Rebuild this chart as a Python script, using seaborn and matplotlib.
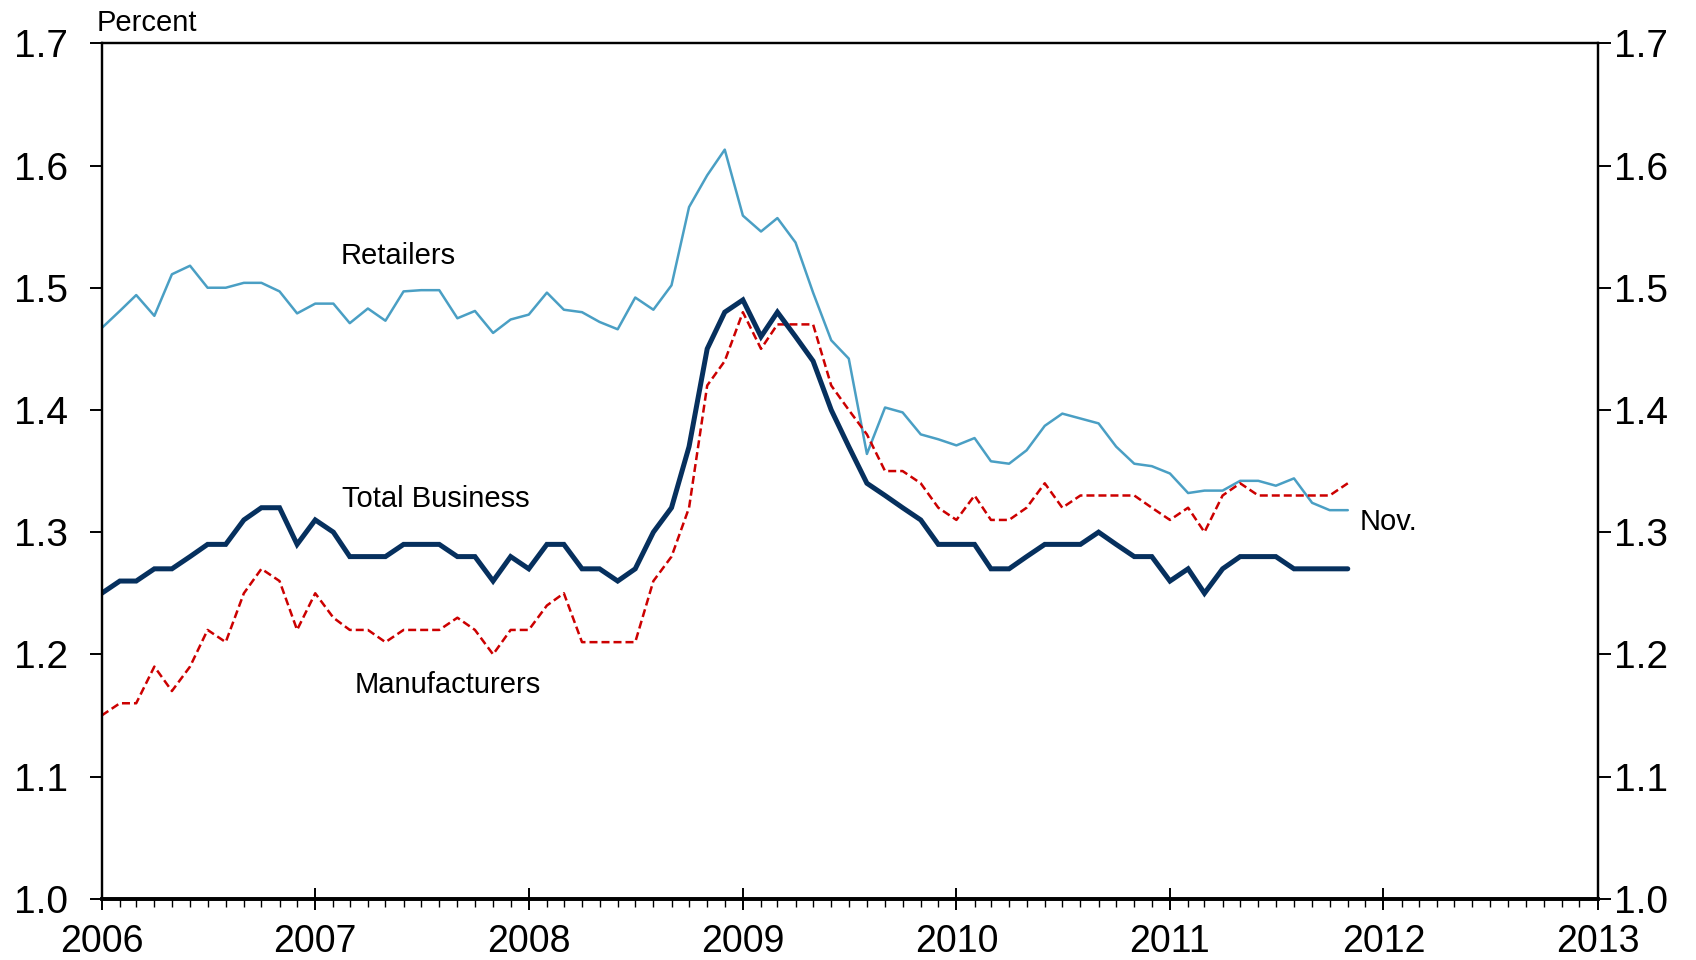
import numpy as np
import pandas as pd
import seaborn as sns
import matplotlib.pyplot as plt
import matplotlib.dates as mdates
from matplotlib.ticker import MultipleLocator, FormatStrFormatter

# monthly data, Jan 2006 - Nov 2011 (percent)
months = pd.date_range("2006-01-01", periods=71, freq="MS")

total_business = [1.25, 1.26, 1.26, 1.27, 1.27, 1.28, 1.29, 1.29, 1.31, 1.32, 1.32, 1.29,
                  1.31, 1.30, 1.28, 1.28, 1.28, 1.29, 1.29, 1.29, 1.28, 1.28, 1.26, 1.28,
                  1.27, 1.29, 1.29, 1.27, 1.27, 1.26, 1.27, 1.30, 1.32, 1.37, 1.45, 1.48,
                  1.49, 1.46, 1.48, 1.46, 1.44, 1.40, 1.37, 1.34, 1.33, 1.32, 1.31, 1.29,
                  1.29, 1.29, 1.27, 1.27, 1.28, 1.29, 1.29, 1.29, 1.30, 1.29, 1.28, 1.28,
                  1.26, 1.27, 1.25, 1.27, 1.28, 1.28, 1.28, 1.27, 1.27, 1.27, 1.27]

manufacturers = [1.15, 1.16, 1.16, 1.19, 1.17, 1.19, 1.22, 1.21, 1.25, 1.27, 1.26, 1.22,
                 1.25, 1.23, 1.22, 1.22, 1.21, 1.22, 1.22, 1.22, 1.23, 1.22, 1.20, 1.22,
                 1.22, 1.24, 1.25, 1.21, 1.21, 1.21, 1.21, 1.26, 1.28, 1.32, 1.42, 1.44,
                 1.48, 1.45, 1.47, 1.47, 1.47, 1.42, 1.40, 1.38, 1.35, 1.35, 1.34, 1.32,
                 1.31, 1.33, 1.31, 1.31, 1.32, 1.34, 1.32, 1.33, 1.33, 1.33, 1.33, 1.32,
                 1.31, 1.32, 1.30, 1.33, 1.34, 1.33, 1.33, 1.33, 1.33, 1.33, 1.34]

retailers = [1.467, 1.481, 1.494, 1.477, 1.511, 1.518, 1.500, 1.500, 1.504, 1.504, 1.497, 1.479,
             1.487, 1.487, 1.471, 1.483, 1.473, 1.497, 1.498, 1.498, 1.475, 1.481, 1.463, 1.474,
             1.478, 1.496, 1.482, 1.480, 1.472, 1.466, 1.492, 1.482, 1.502, 1.566, 1.592, 1.613,
             1.559, 1.546, 1.557, 1.537, 1.496, 1.457, 1.442, 1.364, 1.402, 1.398, 1.380, 1.376,
             1.371, 1.377, 1.358, 1.356, 1.367, 1.387, 1.397, 1.393, 1.389, 1.370, 1.356, 1.354,
             1.348, 1.332, 1.334, 1.334, 1.342, 1.342, 1.338, 1.344, 1.324, 1.318, 1.318]

df = pd.DataFrame({"date": months, "Total Business": total_business,
                   "Manufacturers": manufacturers, "Retailers": retailers})

sns.set_style("white")
plt.rcParams["font.family"] = ["Liberation Sans", "DejaVu Sans"]
plt.rcParams["text.color"] = "black"
plt.rcParams["xtick.color"] = "black"
plt.rcParams["ytick.color"] = "black"

W, H = 1696, 960
fig = plt.figure(figsize=(W / 100, H / 100), dpi=100)
x0, x1, y0, y1 = 101.7, 1597.6, 43.3, 898.8
ax = fig.add_axes([x0 / W, 1 - y1 / H, (x1 - x0) / W, (y1 - y0) / H])

sns.lineplot(data=df, x="date", y="Retailers", ax=ax, color="#4a9fc4", linewidth=1.8)
sns.lineplot(data=df, x="date", y="Manufacturers", ax=ax, color="#cc0000",
             linewidth=1.8, linestyle=(0, (3.2, 1.6)))
sns.lineplot(data=df, x="date", y="Total Business", ax=ax, color="#06305e",
             linewidth=3.6, solid_joinstyle="miter")

ax.set_xlim(pd.Timestamp("2006-01-01"), pd.Timestamp("2013-01-01"))
ax.set_ylim(1.0, 1.7)
ax.set_xlabel("")
ax.set_ylabel("")

# x axis: year ticks crossing the axis, monthly minor ticks below
ax.xaxis.set_major_locator(mdates.YearLocator())
ax.xaxis.set_major_formatter(mdates.DateFormatter("%Y"))
ax.xaxis.set_minor_locator(mdates.MonthLocator())
ax.tick_params(axis="x", which="major", direction="inout", length=16, width=1.4,
               labelsize=27, pad=10, bottom=True, colors="black")
ax.tick_params(axis="x", which="minor", direction="out", length=6, width=1.0,
               bottom=True, colors="black")

# y axis with labels on both sides
ax.yaxis.set_major_locator(MultipleLocator(0.1))
ax.yaxis.set_major_formatter(FormatStrFormatter("%.1f"))
ax.tick_params(axis="y", which="major", direction="out", length=9, width=1.4,
               labelsize=28, pad=15, left=True, colors="black")
ax2 = ax.twinx()
ax2.set_ylim(1.0, 1.7)
ax2.yaxis.set_major_locator(MultipleLocator(0.1))
ax2.yaxis.set_major_formatter(FormatStrFormatter("%.1f"))
ax2.tick_params(axis="y", which="major", direction="out", length=9, width=1.4,
                labelsize=28, pad=3, right=True, colors="black")

for a in (ax, ax2):
    for s in a.spines.values():
        s.set_color("black")
        s.set_linewidth(1.6)
ax.spines["bottom"].set_linewidth(2.6)
ax2.spines["bottom"].set_linewidth(2.6)

# series labels
ax.text(pd.Timestamp("2007-02-14"), 1.526, "Retailers", fontsize=21, va="center", ha="left")
ax.text(pd.Timestamp("2007-02-15"), 1.327, "Total Business", fontsize=21, va="center", ha="left")
ax.text(pd.Timestamp("2007-03-10"), 1.175, "Manufacturers", fontsize=21, va="center", ha="left")
ax.text(pd.Timestamp("2011-11-22"), 1.308, "Nov.", fontsize=21, va="center", ha="left")

fig.text(97 / W, 1 - 23 / H, "Percent", fontsize=21, va="center", ha="left")

fig.savefig("out.png", dpi=100)
